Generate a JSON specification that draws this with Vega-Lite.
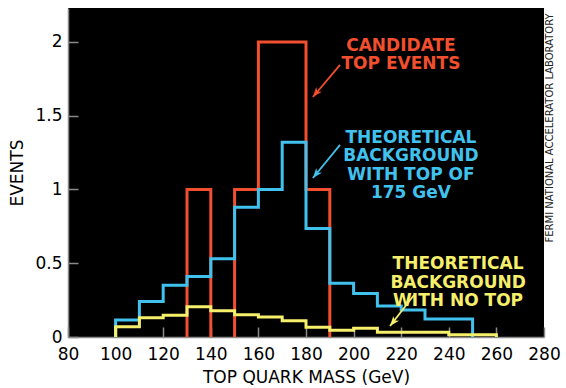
{
  "$schema": "https://vega.github.io/schema/vega-lite/v6.json",
  "width": 476,
  "height": 329,
  "autosize": "none",
  "padding": {"left": 68, "top": 8, "right": 22, "bottom": 51},
  "background": "white",
  "config": {
    "view": {"fill": "black", "stroke": null},
    "axis": {
      "grid": false,
      "domainColor": "#8a8a8a",
      "domainWidth": 1.5,
      "tickColor": "#8a8a8a",
      "tickWidth": 1.5,
      "tickSize": -10,
      "labelOverlap": false,
      "labelFlush": false,
      "labelFont": "DejaVu Sans",
      "labelFontSize": 17,
      "labelColor": "black",
      "titleFont": "DejaVu Sans",
      "titleFontSize": 17,
      "titleFontWeight": "normal",
      "titleColor": "black"
    }
  },
  "datasets": {
    "hist": [
      {"series": "candidate", "seg": "a", "mass": 130, "events": 0},
      {"series": "candidate", "seg": "a", "mass": 130, "events": 1},
      {"series": "candidate", "seg": "a", "mass": 140, "events": 0},
      {"series": "candidate", "seg": "b", "mass": 150, "events": 0},
      {"series": "candidate", "seg": "b", "mass": 150, "events": 1},
      {"series": "candidate", "seg": "b", "mass": 160, "events": 2},
      {"series": "candidate", "seg": "b", "mass": 180, "events": 1},
      {"series": "candidate", "seg": "b", "mass": 190, "events": 0},

      {"series": "top175", "seg": "a", "mass": 100, "events": 0},
      {"series": "top175", "seg": "a", "mass": 100, "events": 0.115},
      {"series": "top175", "seg": "a", "mass": 110, "events": 0.24},
      {"series": "top175", "seg": "a", "mass": 120, "events": 0.35},
      {"series": "top175", "seg": "a", "mass": 130, "events": 0.41},
      {"series": "top175", "seg": "a", "mass": 140, "events": 0.53},
      {"series": "top175", "seg": "a", "mass": 150, "events": 0.88},
      {"series": "top175", "seg": "a", "mass": 160, "events": 1.0},
      {"series": "top175", "seg": "a", "mass": 170, "events": 1.32},
      {"series": "top175", "seg": "a", "mass": 180, "events": 0.735},
      {"series": "top175", "seg": "a", "mass": 190, "events": 0.365},
      {"series": "top175", "seg": "a", "mass": 200, "events": 0.295},
      {"series": "top175", "seg": "a", "mass": 210, "events": 0.21},
      {"series": "top175", "seg": "a", "mass": 220, "events": 0.183},
      {"series": "top175", "seg": "a", "mass": 230, "events": 0.122},
      {"series": "top175", "seg": "a", "mass": 240, "events": 0.122},
      {"series": "top175", "seg": "a", "mass": 250, "events": 0},

      {"series": "notop", "seg": "a", "mass": 100, "events": 0},
      {"series": "notop", "seg": "a", "mass": 100, "events": 0.07},
      {"series": "notop", "seg": "a", "mass": 110, "events": 0.13},
      {"series": "notop", "seg": "a", "mass": 120, "events": 0.148},
      {"series": "notop", "seg": "a", "mass": 130, "events": 0.205},
      {"series": "notop", "seg": "a", "mass": 140, "events": 0.178},
      {"series": "notop", "seg": "a", "mass": 150, "events": 0.15},
      {"series": "notop", "seg": "a", "mass": 160, "events": 0.135},
      {"series": "notop", "seg": "a", "mass": 170, "events": 0.11},
      {"series": "notop", "seg": "a", "mass": 180, "events": 0.066},
      {"series": "notop", "seg": "a", "mass": 190, "events": 0.045},
      {"series": "notop", "seg": "a", "mass": 200, "events": 0.06},
      {"series": "notop", "seg": "a", "mass": 210, "events": 0.032},
      {"series": "notop", "seg": "a", "mass": 220, "events": 0.032},
      {"series": "notop", "seg": "a", "mass": 230, "events": 0.032},
      {"series": "notop", "seg": "a", "mass": 240, "events": 0.015},
      {"series": "notop", "seg": "a", "mass": 250, "events": 0.015},
      {"series": "notop", "seg": "a", "mass": 260, "events": 0}
    ],
    "notes": [
      {"series": "candidate", "label": "CANDIDATE\nTOP EVENTS", "mass": 219.9, "events": 1.973},
      {"series": "top175", "label": "THEORETICAL\nBACKGROUND\nWITH TOP OF\n175 GeV", "mass": 224.1, "events": 1.349},
      {"series": "notop", "label": "THEORETICAL\nBACKGROUND\nWITH NO TOP", "mass": 243.9, "events": 0.492}
    ],
    "arrows": [
      {"series": "candidate", "mass": 194.3, "events": 1.844, "tipMass": 182.9, "tipEvents": 1.627},
      {"series": "top175", "mass": 194.3, "events": 1.302, "tipMass": 182.9, "tipEvents": 1.078},
      {"series": "notop", "mass": 225.4, "events": 0.285, "tipMass": 215.3, "tipEvents": 0.075}
    ],
    "credit": [
      {"label": "FERMI NATIONAL ACCELERATOR LABORATORY", "mass": 282.7, "events": 1.417}
    ]
  },
  "encoding": {
    "x": {
      "field": "mass",
      "type": "quantitative",
      "scale": {"domain": [80, 280], "nice": false, "zero": false},
      "axis": {
        "title": "TOP QUARK MASS (GeV)",
        "values": [80, 100, 120, 140, 160, 180, 200, 220, 240, 260, 280],
        "labelPadding": 19,
        "titlePadding": 7
      }
    },
    "y": {
      "field": "events",
      "type": "quantitative",
      "scale": {"domain": [0, 2.23], "nice": false},
      "axis": {
        "title": "EVENTS",
        "values": [0, 0.5, 1, 1.5, 2],
        "format": "~g",
        "labelPadding": 16,
        "titlePadding": 8
      }
    },
    "color": {
      "field": "series",
      "type": "nominal",
      "scale": {
        "domain": ["candidate", "top175", "notop"],
        "range": ["#f14f2e", "#41c2ee", "#f6ef6c"]
      },
      "legend": null
    }
  },
  "layer": [
    {
      "data": {"name": "hist"},
      "transform": [{"filter": "datum.series === 'candidate'"}],
      "mark": {"type": "line", "interpolate": "step-after", "strokeWidth": 3},
      "encoding": {"detail": {"field": "seg"}, "order": {"value": null}}
    },
    {
      "data": {"name": "hist"},
      "transform": [{"filter": "datum.series === 'top175'"}],
      "mark": {"type": "line", "interpolate": "step-after", "strokeWidth": 3},
      "encoding": {"order": {"value": null}}
    },
    {
      "data": {"name": "hist"},
      "transform": [{"filter": "datum.series === 'notop'"}],
      "mark": {"type": "line", "interpolate": "step-after", "strokeWidth": 3},
      "encoding": {"order": {"value": null}}
    },
    {
      "data": {"name": "arrows"},
      "mark": {"type": "rule", "strokeWidth": 1.8},
      "encoding": {
        "x2": {"field": "tipMass"},
        "y2": {"field": "tipEvents"}
      }
    },
    {
      "data": {"name": "arrows"},
      "mark": {
        "type": "point",
        "filled": true,
        "opacity": 1,
        "size": 150,
        "angle": 219,
        "shape": "M0,0L-0.6,1.6L0,1.15L0.6,1.6Z"
      },
      "encoding": {
        "x": {"field": "tipMass", "type": "quantitative"},
        "y": {"field": "tipEvents", "type": "quantitative"}
      }
    },
    {
      "data": {"name": "notes"},
      "mark": {
        "type": "text",
        "font": "DejaVu Sans",
        "fontSize": 17,
        "fontWeight": "bold",
        "align": "center",
        "baseline": "middle",
        "lineBreak": "\n",
        "lineHeight": 18.5
      },
      "encoding": {"text": {"field": "label"}}
    },
    {
      "data": {"name": "credit"},
      "mark": {
        "type": "text",
        "font": "DejaVu Sans",
        "fontSize": 10,
        "angle": 270,
        "align": "center",
        "baseline": "middle"
      },
      "encoding": {"text": {"field": "label"}, "color": {"value": "#222222"}}
    }
  ]
}
